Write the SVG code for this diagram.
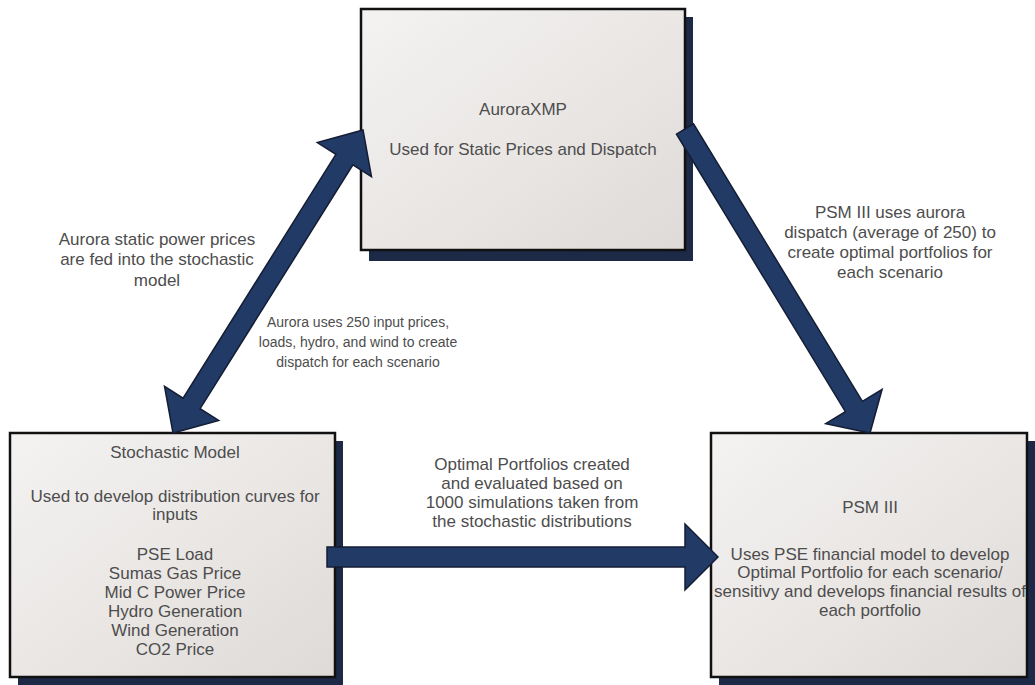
<svg xmlns="http://www.w3.org/2000/svg" width="1035" height="685" viewBox="0 0 1035 685">
  <defs>
    <linearGradient id="boxFill" x1="0" y1="0" x2="1" y2="1">
      <stop offset="0" stop-color="#f4f3f2"/>
      <stop offset="0.5" stop-color="#eae7e5"/>
      <stop offset="1" stop-color="#dedad8"/>
    </linearGradient>
    <style>
      .box { fill: url(#boxFill); stroke: #111; stroke-width: 2.5; }
      .shadow { fill: #1c2947; }
      .arrow { fill: #223a66; stroke: #141d33; stroke-width: 1.5; stroke-linejoin: miter; }
      text { font-family: "Liberation Sans", Arial, sans-serif; font-size: 17px; fill: #4d4d4d; text-anchor: middle; }
      .small { font-size: 14px; }
    </style>
  </defs>
  <rect width="1035" height="685" fill="#ffffff"/>

  <g id="node-aurora">
    <rect class="shadow" x="369" y="17" width="324" height="244"/>
    <rect class="box" x="361" y="9" width="324" height="241"/>
    <text x="523" y="115">AuroraXMP</text>
    <text x="523" y="155">Used for Static Prices and Dispatch</text>
  </g>

  <g id="node-stochastic">
    <rect class="shadow" x="18" y="441" width="325" height="246"/>
    <rect class="box" x="10" y="433" width="325" height="244"/>
    <text x="175" y="458">Stochastic Model</text>
    <text x="175" y="502">Used to develop distribution curves for</text>
    <text x="175" y="520">inputs</text>
    <text x="175" y="560">PSE Load</text>
    <text x="175" y="579">Sumas Gas Price</text>
    <text x="175" y="598">Mid C Power Price</text>
    <text x="175" y="617">Hydro Generation</text>
    <text x="175" y="636">Wind Generation</text>
    <text x="175" y="655">CO2 Price</text>
  </g>

  <g id="node-psm">
    <rect class="shadow" x="719" y="441" width="316" height="244"/>
    <rect class="box" x="711" y="433" width="316" height="244"/>
    <text x="870" y="513">PSM III</text>
    <text x="870" y="560">Uses PSE financial model to develop</text>
    <text x="870" y="578">Optimal Portfolio for each scenario/</text>
    <text x="870" y="597">sensitivy and develops financial results of</text>
    <text x="870" y="616">each portfolio</text>
  </g>

  <g id="connectors">
    <polygon class="arrow" points="363,130 371.5,176.6 352.9,164.9 200.1,408.7 218.7,420.4 173,433 164.5,386.4 183.1,398.1 335.9,154.3 317.3,142.6"/>
    <polygon class="arrow" points="676.5,134.2 693.5,123.8 862.4,401.3 882.1,389.3 870,433 825.7,423.7 845.4,411.7"/>
    <polygon class="arrow" points="327,547 685,547 685,524 718,557 685,590 685,567 327,567"/>
  </g>

  <g id="labels">
    <text x="157" y="245">Aurora static power prices</text>
    <text x="157" y="265">are fed into the stochastic</text>
    <text x="157" y="286">model</text>

    <text class="small" x="358" y="327">Aurora uses 250 input prices,</text>
    <text class="small" x="358" y="347">loads, hydro, and wind to create</text>
    <text class="small" x="358" y="367">dispatch for each scenario</text>

    <text x="890" y="218">PSM III uses aurora</text>
    <text x="890" y="238">dispatch (average of 250) to</text>
    <text x="890" y="258">create optimal portfolios for</text>
    <text x="890" y="278">each scenario</text>

    <text x="532" y="470">Optimal Portfolios created</text>
    <text x="532" y="489">and evaluated based on</text>
    <text x="532" y="508">1000 simulations taken from</text>
    <text x="532" y="527">the stochastic distributions</text>
  </g>
</svg>
